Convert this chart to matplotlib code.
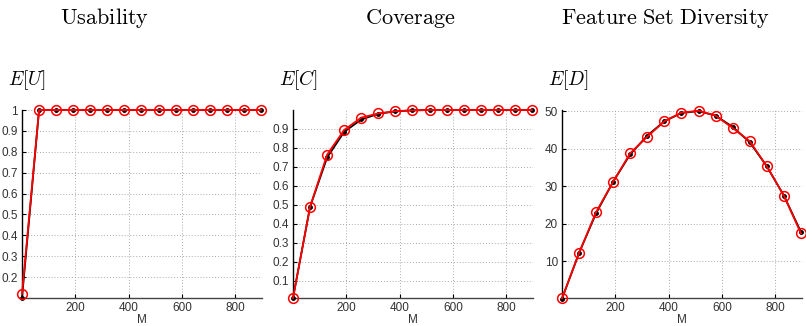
import numpy as np
import matplotlib
matplotlib.use("Agg")
from matplotlib import pyplot as plt

plt.rcParams['mathtext.fontset'] = 'cm'
plt.rcParams['font.family'] = ['Liberation Sans', 'DejaVu Sans']

# sample sizes M
m_vals = [0, 64, 128, 192, 256, 320, 384, 448, 512, 576, 640, 704, 768, 832, 896]

# usability (black = analytic, red = simulated)
usab_black = [0.10, 1, 1, 1, 1, 1, 1, 1, 1, 1, 1, 1, 1, 1, 1]
usab_red = [0.12, 1, 1, 1, 1, 1, 1, 1, 1, 1, 1, 1, 1, 1, 1]

# coverage
cov_black = [0.01, 0.49, 0.75, 0.885, 0.95, 0.98, 0.993, 0.998, 1, 1, 1, 1, 1, 1, 1]
cov_red = [0.01, 0.49, 0.765, 0.895, 0.96, 0.982, 0.994, 0.998, 1, 1, 1, 1, 1, 1, 1]

# feature set diversity
div_black = [0.0, 12.2, 22.8, 31.2, 38.5, 43.5, 47.3, 49.5, 50.0, 48.8, 45.8, 41.7, 35.3, 27.5, 17.8]
div_red = [0.1, 12.2, 23.1, 31.2, 38.8, 43.2, 47.3, 49.6, 50.1, 48.8, 45.5, 42.0, 35.3, 27.5, 17.4]

titles = ['Usability', 'Coverage', 'Feature\\ Set\\ Diversity']
ylabels = ['$E[U]$', '$E[C]$', '$E[D]$']
blacks = [usab_black, cov_black, div_black]
reds = [usab_red, cov_red, div_red]
ylims = [(0.1, 1.0), (0.01, 1.0), (0.2, 50.3)]
yticks = [np.arange(0.2, 1.01, 0.1), np.arange(0.1, 0.91, 0.1), [10, 20, 30, 40, 50]]
yticklabels = [['0.2', '0.3', '0.4', '0.5', '0.6', '0.7', '0.8', '0.9', '1'],
               ['0.1', '0.2', '0.3', '0.4', '0.5', '0.6', '0.7', '0.8', '0.9'],
               ['10', '20', '30', '40', '50']]

W, H = 806, 326
fig = plt.figure(figsize=(W / 100, H / 100), dpi=100)
lefts = [22, 293, 562]
title_x = [105, 410, 665]

for i in range(3):
    ax = fig.add_axes([lefts[i] / W, 1 - 298 / H, 240 / W, 188 / H])
    ax.plot(m_vals, blacks[i], color='black', lw=1.3, marker='o', ms=2.5, zorder=3)
    ax.plot(m_vals, reds[i], color='red', lw=1.3, marker='o', ms=7,
            mfc='none', mec='red', mew=1.1, zorder=4)
    ax.set_xlim(0, 900)
    ax.set_ylim(*ylims[i])
    ax.set_xticks([200, 400, 600, 800])
    ax.set_yticks(yticks[i])
    ax.set_yticklabels(yticklabels[i])
    ax.grid(True, linestyle=(0, (1, 2)), color='#aaaaaa', lw=0.7)
    ax.spines['top'].set_visible(False)
    ax.spines['right'].set_visible(False)
    ax.spines['left'].set_linewidth(1.0)
    ax.spines['bottom'].set_linewidth(1.0)
    ax.spines['bottom'].set_color('#444444')
    ax.tick_params(direction='in', length=3, labelsize=8.5, labelcolor='#333333', pad=3)
    ax.set_xlabel('M', fontsize=8.5, color='#333333', labelpad=0)
    for m in ax.lines:
        m.set_clip_on(False)
    fig.text(lefts[i] / W - 14 / W, 1 - 80 / H, ylabels[i], fontsize=14, va='center', ha='left')
    fig.text(title_x[i] / W, 1 - 18 / H, '$\\mathrm{' + titles[i] + '}$', fontsize=16,
             va='center', ha='center')

fig.savefig('out.png', dpi=100)
